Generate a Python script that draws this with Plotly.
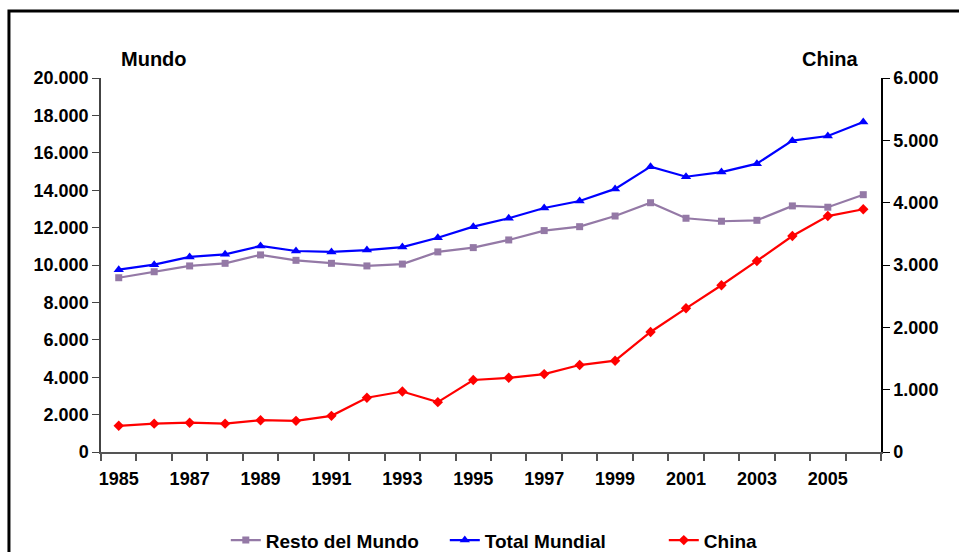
import plotly.graph_objects as go

# Años y series (miles de toneladas)
years = list(range(1985, 2007))
tick_years = list(range(1985, 2006, 2))
boundaries = [y - 0.5 for y in range(1985, 2008)]

resto_mundo = [9320, 9640, 9950, 10090, 10540, 10250, 10090, 9950, 10050, 10700,
               10930, 11340, 11840, 12050, 12620, 13330, 12500, 12340, 12390,
               13160, 13090, 13760]
total_mundial = [9750, 10020, 10430, 10570, 11020, 10750, 10700, 10800, 10960,
                 11460, 12050, 12500, 13050, 13420, 14070, 15260, 14720, 14970,
                 15420, 16650, 16900, 17650]
china = [420, 455, 470, 455, 510, 500, 580, 870, 970, 800, 1155, 1190, 1250,
         1395, 1465, 1925, 2305, 2675, 3065, 3465, 3785, 3895]

left_ticks = list(range(0, 20001, 2000))
right_ticks = list(range(0, 6001, 1000))

FONT = "Liberation Sans, Arial, sans-serif"

fig = go.Figure()
fig.add_trace(go.Scatter(
    x=years, y=resto_mundo, name="Resto del Mundo", mode="lines+markers",
    line=dict(color="#9479a6", width=2.2),
    marker=dict(symbol="square", size=7, color="#9479a6"),
))
fig.add_trace(go.Scatter(
    x=years, y=total_mundial, name="Total Mundial", mode="lines+markers",
    line=dict(color="#0000ff", width=2.2),
    marker=dict(symbol="triangle-up", size=9, color="#0000ff"),
))
fig.add_trace(go.Scatter(
    x=years, y=china, name="China", mode="lines+markers", yaxis="y2",
    line=dict(color="#ff0000", width=2.2),
    marker=dict(symbol="diamond", size=8, color="#ff0000"),
))

tickfont = dict(family=FONT, size=18, color="#000000", weight="bold")

fig.update_layout(
    width=959, height=552,
    margin=dict(l=101, r=78, t=78, b=100, autoexpand=False),
    paper_bgcolor="#ffffff", plot_bgcolor="#ffffff",
    separators=",.",
    showlegend=True,
    legend=dict(
        orientation="h", x=0.16, xanchor="left", y=-0.236, yanchor="middle",
        font=dict(family=FONT, size=19, color="#000000", weight="bold"),
        itemwidth=30, entrywidth=174, entrywidthmode="pixels",
        bgcolor="rgba(0,0,0,0)",
    ),
    xaxis=dict(
        range=[1984.5, 2006.5], tickmode="array", tickvals=tick_years,
        ticktext=[str(y) for y in tick_years], ticks="", ticklabelstandoff=10,
        showgrid=False, zeroline=False, showline=True, linecolor="#555555",
        linewidth=1.5, tickfont=tickfont, automargin=False,
        minor=dict(tickmode="array", tickvals=boundaries, ticks="outside",
                   ticklen=7, tickcolor="#555555", tickwidth=1.5, showgrid=False),
    ),
    yaxis=dict(
        range=[0, 20000], tickmode="array", tickvals=left_ticks,
        tickformat=",.0f", ticks="outside", ticklen=7, tickcolor="#444444",
        showgrid=False, zeroline=False, showline=True, linecolor="#444444",
        linewidth=1.5, tickfont=tickfont, automargin=False,
    ),
    yaxis2=dict(
        range=[0, 6000], tickmode="array", tickvals=right_ticks,
        tickformat=",.0f", overlaying="y", side="right", anchor="x",
        ticks="outside", ticklen=7, tickcolor="#000000",
        showgrid=False, zeroline=False, showline=True, linecolor="#000000",
        linewidth=1.5, tickfont=tickfont, automargin=False,
    ),
    annotations=[
        dict(text="Mundo", xref="paper", yref="paper", x=0.023, y=1.051,
             xanchor="left", yanchor="middle", showarrow=False,
             font=dict(family=FONT, size=20, color="#000000", weight="bold")),
        dict(text="China", xref="paper", yref="paper", x=0.973, y=1.051,
             xanchor="right", yanchor="middle", showarrow=False,
             font=dict(family=FONT, size=20, color="#000000", weight="bold")),
    ],
    shapes=[
        dict(type="rect", xref="paper", yref="paper", x0=-0.118, x1=1.25,
             y0=-0.5, y1=1.179, line=dict(color="#000000", width=3),
             fillcolor="rgba(0,0,0,0)", layer="below"),
    ],
)

fig.write_html("out.html")
